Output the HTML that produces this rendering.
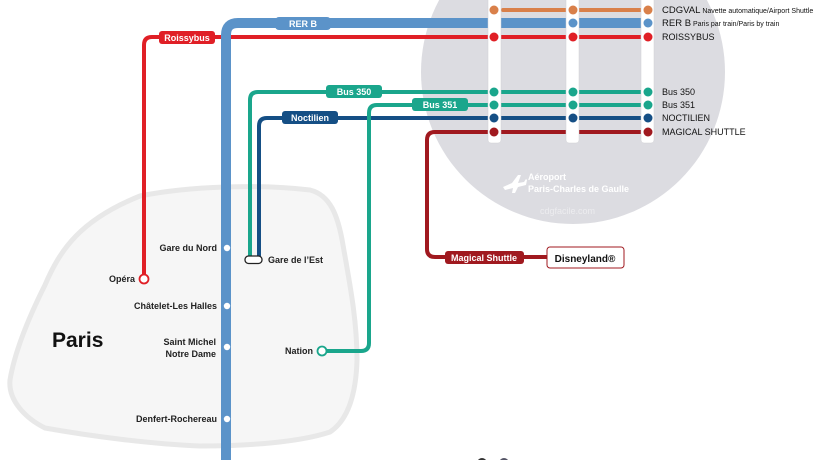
<!DOCTYPE html>
<html><head><meta charset="utf-8"><style>
html,body{margin:0;padding:0;background:#fff;}
svg{display:block;font-family:"Liberation Sans",Arial,sans-serif;}
</style></head><body>
<svg width="840" height="460" viewBox="0 0 840 460" xmlns="http://www.w3.org/2000/svg">
<circle cx="573" cy="72" r="152" fill="#dcdce1"/>
<path d="M140,196 C190,186 260,184 310,190 C330,195 338,215 343,245 C350,285 357,320 357,360 C356,395 348,420 330,432 C300,442 250,446 200,446 C150,444 90,436 45,428 C25,418 8,400 10,380 C15,350 30,315 45,285 C60,250 80,220 140,196 Z" fill="#f6f6f6" stroke="#e8e8e8" stroke-width="5"/>
<text x="52" y="347" font-size="21" font-weight="bold" fill="#111">Paris</text>

<g fill="none" stroke-linecap="round" stroke-linejoin="round">
<path d="M503,10 H648" stroke="#d9804a" stroke-width="4"/>
<path d="M144,275 V45 Q144,37 152,37 H648" stroke="#e01f26" stroke-width="4"/>
<path d="M226,460 V35 Q226,23 238,23 H648" stroke="#5b93c9" stroke-width="10" stroke-linecap="butt"/>
<path d="M250,256 V100 Q250,92 258,92 H648" stroke="#1aa68c" stroke-width="4"/>
<path d="M259,256 V126 Q259,118 267,118 H648" stroke="#154f85" stroke-width="4"/>
<path d="M327,351 H361 Q369,351 369,343 V113 Q369,105 377,105 H648" stroke="#1aa68c" stroke-width="4"/>
<path d="M648,132 H435 Q427,132 427,140 V249 Q427,257 435,257 H548" stroke="#a0191f" stroke-width="4"/>
</g>
<g font-size="9" font-weight="bold" fill="#fff" text-anchor="middle">
<rect x="275" y="17" width="56" height="13" rx="4" fill="#5b93c9"/><text x="303" y="27">RER B</text>
<rect x="159" y="31" width="56" height="13" rx="3" fill="#e01f26"/><text x="187" y="41">Roissybus</text>
<rect x="326" y="85" width="56" height="13" rx="3" fill="#1aa68c"/><text x="354" y="95">Bus 350</text>
<rect x="412" y="98" width="56" height="13" rx="3" fill="#1aa68c"/><text x="440" y="108">Bus 351</text>
<rect x="282" y="111" width="56" height="13" rx="3" fill="#154f85"/><text x="310" y="121">Noctilien</text>
<rect x="445" y="251" width="79" height="13" rx="3" fill="#a0191f"/><text x="484" y="261">Magical Shuttle</text>
</g>
<rect x="547" y="247" width="77" height="21" rx="3" fill="#fff" stroke="#a0191f" stroke-width="1"/>
<text x="585" y="262" font-size="10" font-weight="bold" fill="#111" text-anchor="middle">Disneyland®</text>

<g fill="#fff" stroke="#d0d0d4" stroke-width="0.5">
<rect x="488" y="-5" width="13" height="148" rx="3"/>
<rect x="566" y="-5" width="13" height="148" rx="3"/>
<rect x="641" y="-5" width="13" height="148" rx="3"/>
</g>
<g>
<circle cx="494" cy="10" r="4.5" fill="#d9804a"/><circle cx="573" cy="10" r="4.5" fill="#d9804a"/><circle cx="648" cy="10" r="4.5" fill="#d9804a"/>
<circle cx="573" cy="23" r="4.5" fill="#5b93c9"/><circle cx="648" cy="23" r="4.5" fill="#5b93c9"/>
<circle cx="494" cy="37" r="4.5" fill="#e01f26"/><circle cx="573" cy="37" r="4.5" fill="#e01f26"/><circle cx="648" cy="37" r="4.5" fill="#e01f26"/>
<circle cx="494" cy="92" r="4.5" fill="#1aa68c"/><circle cx="573" cy="92" r="4.5" fill="#1aa68c"/><circle cx="648" cy="92" r="4.5" fill="#1aa68c"/>
<circle cx="494" cy="105" r="4.5" fill="#1aa68c"/><circle cx="573" cy="105" r="4.5" fill="#1aa68c"/><circle cx="648" cy="105" r="4.5" fill="#1aa68c"/>
<circle cx="494" cy="118" r="4.5" fill="#154f85"/><circle cx="573" cy="118" r="4.5" fill="#154f85"/><circle cx="648" cy="118" r="4.5" fill="#154f85"/>
<circle cx="494" cy="132" r="4.5" fill="#a0191f"/><circle cx="648" cy="132" r="4.5" fill="#a0191f"/>
</g>
<g font-size="9" fill="#111">
<text x="662" y="13"><tspan font-size="9.5">CDGVAL</tspan><tspan font-size="7"> Navette automatique/Airport Shuttle</tspan></text>
<text x="662" y="26"><tspan font-size="9.5">RER B</tspan><tspan font-size="7"> Paris par train/Paris by train</tspan></text>
<text x="662" y="40">ROISSYBUS</text>
<text x="662" y="95">Bus 350</text>
<text x="662" y="108">Bus 351</text>
<text x="662" y="121">NOCTILIEN</text>
<text x="662" y="135">MAGICAL SHUTTLE</text>
</g>
<path d="M503,187 L512,183 L518,175 L521,175 L518,183 L524,182 L526,179 L527,180 L526,185 L518,187 L515,193 L512,193 L513,188 L505,190 Z" fill="#fff"/>
<text x="528" y="180" font-size="9" font-weight="bold" fill="#fff">Aéroport</text>
<text x="528" y="192" font-size="9" font-weight="bold" fill="#fff">Paris-Charles de Gaulle</text>
<text x="540" y="214" font-size="9" fill="#ececef">cdgfacile.com</text>

<circle cx="144" cy="279" r="4.5" fill="#fff" stroke="#e01f26" stroke-width="1.8"/>
<circle cx="322" cy="351" r="4.5" fill="#fff" stroke="#1aa68c" stroke-width="1.8"/>
<rect x="245" y="256" width="17" height="7.5" rx="3.5" fill="#fff" stroke="#222" stroke-width="1.3"/>
<g fill="#fff"><circle cx="227" cy="248" r="3.2"/><circle cx="227" cy="306" r="3.2"/><circle cx="227" cy="347" r="3.2"/><circle cx="227" cy="419" r="3.2"/></g>
<g font-size="9" font-weight="bold" fill="#222">
<text x="217" y="251" text-anchor="end">Gare du Nord</text>
<text x="135" y="282" text-anchor="end">Opéra</text>
<text x="217" y="309" text-anchor="end">Châtelet-Les Halles</text>
<text x="216" y="345" text-anchor="end">Saint Michel</text>
<text x="216" y="357" text-anchor="end">Notre Dame</text>
<text x="217" y="422" text-anchor="end">Denfert-Rochereau</text>
<text x="268" y="263">Gare de l’Est</text>
<text x="313" y="354" text-anchor="end">Nation</text>
</g>
<circle cx="482" cy="463" r="5" fill="#333"/><circle cx="504" cy="463" r="5" fill="#556"/>
</svg>
</body></html>
